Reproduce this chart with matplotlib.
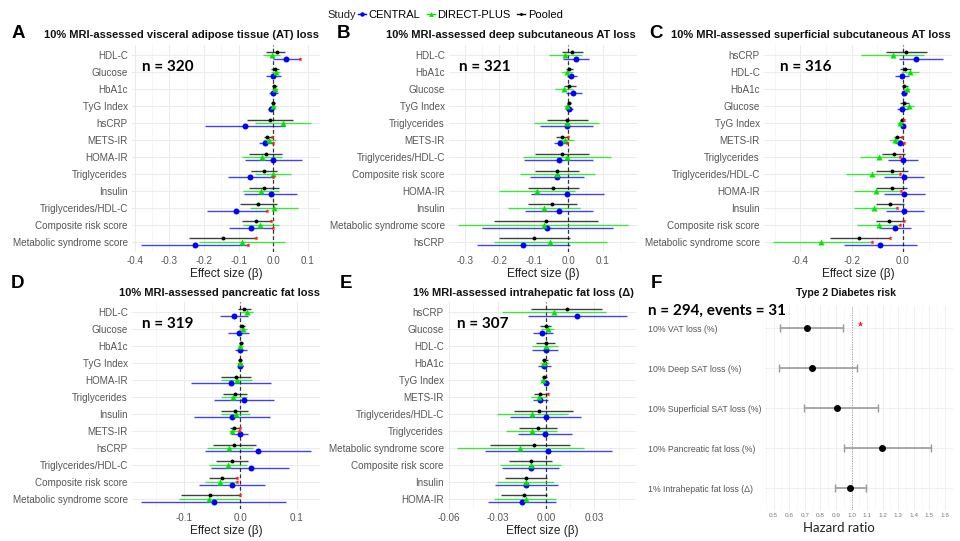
import numpy as np
import matplotlib
matplotlib.use("Agg")
import matplotlib.pyplot as plt
from matplotlib.ticker import MultipleLocator, FormatStrFormatter
from matplotlib.lines import Line2D

plt.rcParams['font.family'] = ['Liberation Sans', 'DejaVu Sans']
plt.rcParams['axes.unicode_minus'] = False

# each row: (estimate, lower CI, upper CI)
# --- A: 10% VAT loss
A_labels = ["HDL-C", "Glucose", "HbA1c", "TyG Index", "hsCRP", "METS-IR", "HOMA-IR",
            "Triglycerides", "Insulin", "Triglycerides/HDL-C", "Composite risk score",
            "Metabolic syndrome score"]
A_pooled = [(0.012, -0.020, 0.034), (0.005, -0.008, 0.017), (0.003, -0.005, 0.010),
            (-0.002, -0.008, 0.005), (-0.010, -0.077, 0.058), (-0.017, -0.027, -0.005),
            (-0.022, -0.069, 0.024), (-0.026, -0.065, 0.012), (-0.026, -0.069, 0.017),
            (-0.043, -0.096, 0.010), (-0.050, -0.089, -0.008), (-0.145, -0.243, -0.049)]
A_direct = [(-0.005, -0.030, 0.020), (0.007, -0.008, 0.019), (0.005, -0.005, 0.014),
            (0.000, -0.010, 0.008), (0.027, -0.053, 0.110), (-0.012, -0.029, 0.008),
            (-0.032, -0.091, 0.024), (-0.002, -0.053, 0.050), (-0.036, -0.088, 0.017),
            (0.002, -0.067, 0.070), (-0.037, -0.088, 0.017), (-0.089, -0.214, 0.034)]
A_central = [(0.038, 0.000, 0.077), (0.000, -0.021, 0.022), (0.000, -0.012, 0.014),
             (-0.006, -0.014, 0.002), (-0.082, -0.197, 0.034), (-0.024, -0.040, -0.002),
             (0.000, -0.082, 0.084), (-0.067, -0.130, 0.000), (-0.008, -0.084, 0.067),
             (-0.108, -0.190, -0.019), (-0.065, -0.127, 0.000), (-0.227, -0.383, -0.074)]
A_sig = [("HDL-C", "CENTRAL"), ("METS-IR", "Pooled"), ("METS-IR", "CENTRAL"),
         ("Triglycerides", "CENTRAL"), ("Triglycerides/HDL-C", "CENTRAL"),
         ("Composite risk score", "Pooled"), ("Composite risk score", "CENTRAL"),
         ("Metabolic syndrome score", "Pooled"), ("Metabolic syndrome score", "CENTRAL")]

# --- B: 10% deep SAT loss
B_labels = ["HDL-C", "HbA1c", "Glucose", "TyG Index", "Triglycerides", "METS-IR",
            "Triglycerides/HDL-C", "Composite risk score", "HOMA-IR", "Insulin",
            "Metabolic syndrome score", "hsCRP"]
B_pooled = [(0.011, -0.019, 0.042), (0.003, -0.007, 0.014), (0.003, -0.014, 0.022),
            (0.001, -0.005, 0.008), (-0.004, -0.062, 0.056), (-0.019, -0.036, -0.002),
            (-0.019, -0.097, 0.061), (-0.033, -0.097, 0.032), (-0.045, -0.118, 0.030),
            (-0.048, -0.118, 0.024), (-0.065, -0.216, 0.085), (-0.099, -0.202, 0.005)]
B_direct = [(-0.009, -0.057, 0.040), (-0.004, -0.021, 0.014), (-0.012, -0.038, 0.014),
            (-0.004, -0.013, 0.005), (-0.004, -0.099, 0.090), (-0.009, -0.031, 0.017),
            (-0.004, -0.130, 0.122), (-0.033, -0.140, 0.077), (-0.091, -0.202, 0.020),
            (-0.070, -0.174, 0.034), (-0.072, -0.321, 0.174), (-0.052, -0.216, 0.111)]
B_central = [(0.022, -0.016, 0.061), (0.008, -0.005, 0.025), (0.014, -0.007, 0.040),
             (0.003, -0.007, 0.014), (-0.004, -0.081, 0.072), (-0.024, -0.043, -0.004),
             (-0.028, -0.128, 0.072), (-0.033, -0.110, 0.046), (-0.004, -0.108, 0.102),
             (-0.026, -0.126, 0.072), (-0.062, -0.250, 0.128), (-0.130, -0.266, 0.005)]
B_sig = [("METS-IR", "Pooled"), ("METS-IR", "CENTRAL")]

# --- C: 10% superficial SAT loss
C_labels = ["hsCRP", "HDL-C", "HbA1c", "Glucose", "TyG Index", "METS-IR", "Triglycerides",
            "Triglycerides/HDL-C", "HOMA-IR", "Insulin", "Composite risk score",
            "Metabolic syndrome score"]
C_pooled = [(0.013, -0.065, 0.094), (0.009, -0.013, 0.032), (0.006, -0.004, 0.018),
            (0.005, -0.010, 0.022), (-0.004, -0.013, 0.004), (-0.023, -0.036, -0.002),
            (-0.036, -0.082, 0.010), (-0.043, -0.104, 0.018), (-0.043, -0.104, 0.016),
            (-0.049, -0.104, 0.006), (-0.053, -0.104, 0.004), (-0.170, -0.286, -0.049)]
C_direct = [(-0.040, -0.162, 0.084), (0.026, -0.008, 0.062), (0.016, 0.000, 0.029),
            (0.022, -0.004, 0.042), (-0.010, -0.023, 0.000), (-0.030, -0.056, -0.008),
            (-0.095, -0.166, -0.013), (-0.121, -0.221, -0.010), (-0.104, -0.192, -0.006),
            (-0.112, -0.192, -0.023), (-0.095, -0.177, -0.010), (-0.319, -0.508, -0.121)]
C_central = [(0.051, -0.017, 0.158), (-0.004, -0.032, 0.025), (0.003, -0.008, 0.016),
             (-0.004, -0.023, 0.018), (0.000, -0.008, 0.010), (-0.013, -0.030, 0.003),
             (0.000, -0.058, 0.057), (0.003, -0.075, 0.083), (0.005, -0.073, 0.087),
             (0.005, -0.065, 0.083), (-0.032, -0.095, 0.031), (-0.088, -0.231, 0.055)]
C_sig = [("TyG Index", "Pooled"), ("METS-IR", "Pooled"), ("METS-IR", "CENTRAL"),
         ("Triglycerides", "DIRECT-PLUS"), ("Triglycerides/HDL-C", "DIRECT-PLUS"),
         ("HOMA-IR", "DIRECT-PLUS"), ("Insulin", "DIRECT-PLUS"),
         ("Composite risk score", "Pooled"), ("Composite risk score", "DIRECT-PLUS"),
         ("Metabolic syndrome score", "Pooled"), ("Metabolic syndrome score", "DIRECT-PLUS")]

# --- D: 10% pancreatic fat loss
D_labels = ["HDL-C", "Glucose", "HbA1c", "TyG Index", "HOMA-IR", "Triglycerides", "Insulin",
            "METS-IR", "hsCRP", "Triglycerides/HDL-C", "Composite risk score",
            "Metabolic syndrome score"]
D_pooled = [(0.0065, -0.004, 0.018), (0.003, -0.003, 0.009), (0.0006, -0.003, 0.004),
            (-0.001, -0.004, 0.002), (-0.008, -0.034, 0.018), (-0.009, -0.031, 0.012),
            (-0.010, -0.035, 0.014), (-0.011, -0.018, -0.001), (-0.011, -0.049, 0.027),
            (-0.015, -0.044, 0.014), (-0.033, -0.056, -0.006), (-0.053, -0.105, -0.001)]
D_direct = [(0.011, 0.000, 0.022), (0.005, -0.003, 0.012), (0.000, -0.005, 0.005),
            (0.000, -0.006, 0.003), (-0.006, -0.034, 0.021), (-0.013, -0.035, 0.011),
            (-0.008, -0.035, 0.017), (-0.014, -0.021, -0.002), (-0.020, -0.060, 0.022),
            (-0.022, -0.055, 0.011), (-0.036, -0.062, -0.006), (-0.056, -0.109, 0.000)]
D_central = [(-0.011, -0.037, 0.014), (-0.003, -0.022, 0.015), (0.000, -0.010, 0.011),
             (0.000, -0.005, 0.005), (-0.016, -0.088, 0.055), (0.0065, -0.046, 0.059),
             (-0.015, -0.082, 0.052), (-0.001, -0.016, 0.014), (0.031, -0.062, 0.126),
             (0.018, -0.052, 0.086), (-0.015, -0.074, 0.043), (-0.047, -0.177, 0.081)]
D_sig = [("METS-IR", "Pooled"), ("METS-IR", "DIRECT-PLUS"), ("Composite risk score", "Pooled"),
         ("Composite risk score", "DIRECT-PLUS"), ("Metabolic syndrome score", "Pooled")]

# --- E: 1% intrahepatic fat loss
E_labels = ["hsCRP", "Glucose", "HDL-C", "HbA1c", "TyG Index", "METS-IR", "Triglycerides/HDL-C",
            "Triglycerides", "Metabolic syndrome score", "Composite risk score", "Insulin",
            "HOMA-IR"]
E_pooled = [(0.0128, -0.0095, 0.0350), (0.0000, -0.0037, 0.0033), (0.0000, -0.0064, 0.0056),
            (-0.0010, -0.0027, 0.0010), (-0.0010, -0.0023, 0.0006), (-0.0037, -0.0072, 0.0012),
            (-0.0043, -0.0199, 0.0166), (-0.0048, -0.0166, 0.0066), (-0.0072, -0.0348, 0.0149),
            (-0.0095, -0.0228, 0.0035), (-0.0126, -0.0254, 0.0004), (-0.0137, -0.0279, 0.0004)]
E_direct = [(0.0050, -0.0270, 0.0370), (0.0010, -0.0031, 0.0052), (0.0000, -0.0085, 0.0077),
            (-0.0010, -0.0037, 0.0021), (-0.0017, -0.0037, 0.0006), (-0.0043, -0.0093, 0.0006),
            (-0.0085, -0.0302, 0.0139), (-0.0089, -0.0248, 0.0070), (-0.0161, -0.0555, 0.0238),
            (-0.0095, -0.0286, 0.0093), (-0.0124, -0.0306, 0.0050), (-0.0124, -0.0320, 0.0062)]
E_central = [(0.0195, -0.0110, 0.0505), (-0.0023, -0.0083, 0.0041), (0.0000, -0.0089, 0.0077),
             (-0.0010, -0.0047, 0.0031), (0.0000, -0.0021, 0.0016), (-0.0037, -0.0079, 0.0010),
             (0.0000, -0.0223, 0.0215), (-0.0006, -0.0176, 0.0163), (0.0010, -0.0379, 0.0408),
             (-0.0095, -0.0275, 0.0081), (-0.0124, -0.0317, 0.0072), (-0.0151, -0.0358, 0.0062)]
E_sig = [("METS-IR", "Pooled")]

# --- F: type 2 diabetes risk (hazard ratios)
F_labels = ["10% VAT loss (%)", "10% Deep SAT loss (%)", "10% Superficial SAT loss (%)",
            "10% Pancreatic fat loss (%)", "1% Intrahepatic fat loss (\u0394)"]
F_hr = [0.714, 0.744, 0.905, 1.197, 0.990]
F_lo = [0.540, 0.537, 0.696, 0.949, 0.896]
F_hi = [0.943, 1.035, 1.172, 1.510, 1.093]
F_sig = ["10% VAT loss (%)"]

# series look: colour, marker, marker size, vertical dodge
STYLE = {
    "CENTRAL": dict(c="#0000ff", m="o", ms=4.3, off=0.2),
    "DIRECT-PLUS": dict(c="#00e600", m="^", ms=4.6, off=0.0),
    "Pooled": dict(c="#000000", m="o", ms=2.8, off=-0.2),
}

W, H = 960, 541
fig = plt.figure(figsize=(W / 100, H / 100), dpi=100)


def box(x0, y0, x1, y1):
    return [x0 / W, 1 - y1 / H, (x1 - x0) / W, (y1 - y0) / H]


def ftext(x, y, s, **kw):
    fig.text(x / W, 1 - y / H, s, **kw)


def forest(rect, labels, series, sig, step, fmt):
    ax = fig.add_axes(rect)
    n = len(labels)
    rows = np.arange(n)
    arrs = {k: np.array(v) for k, v in series.items()}
    for name, a in arrs.items():
        st = STYLE[name]
        y = rows + st["off"]
        ax.hlines(y, a[:, 1], a[:, 2], color=st["c"], lw=1.0, alpha=0.75, zorder=2)
        ax.plot(a[:, 0], y, st["m"], color=st["c"], ms=st["ms"], mec="none", zorder=3)
    for lab, name in sig:
        i = labels.index(lab)
        ax.plot(arrs[name][i, 2], i + STYLE[name]["off"], "*", color="#ff2020",
                ms=3.6, mec="none", zorder=4)
    lo = min(a[:, 1].min() for a in arrs.values())
    hi = max(a[:, 2].max() for a in arrs.values())
    pad = (hi - lo) * 0.05
    ax.set_xlim(lo - pad, hi + pad)
    ax.set_ylim(n - 0.4, -0.6)
    ax.axvline(0, color="#333333", ls=(0, (3, 2)), lw=0.9, zorder=1)
    ax.set_yticks(rows)
    ax.set_yticklabels(labels)
    ax.xaxis.set_major_locator(MultipleLocator(step))
    ax.xaxis.set_minor_locator(MultipleLocator(step / 2))
    ax.xaxis.set_major_formatter(FormatStrFormatter(fmt))
    ax.grid(True, which="major", color="#ebebeb", lw=0.7, zorder=0)
    ax.grid(True, which="minor", axis="x", color="#f3f3f3", lw=0.5, zorder=0)
    ax.set_axisbelow(True)
    for s in ax.spines.values():
        s.set_visible(False)
    ax.tick_params(which="both", length=0, labelsize=7.1, labelcolor="#555555", pad=3)
    ax.set_xlabel("Effect size (\u03b2)", fontsize=8.6, color="#222222", labelpad=1)
    return ax


forest(box(132, 45, 320, 252), A_labels,
       {"CENTRAL": A_central, "DIRECT-PLUS": A_direct, "Pooled": A_pooled}, A_sig, 0.1, "%.1f")
forest(box(449, 45, 637, 252), B_labels,
       {"CENTRAL": B_central, "DIRECT-PLUS": B_direct, "Pooled": B_pooled}, B_sig, 0.1, "%.1f")
forest(box(764, 45, 952, 252), C_labels,
       {"CENTRAL": C_central, "DIRECT-PLUS": C_direct, "Pooled": C_pooled}, C_sig, 0.2, "%.1f")
forest(box(132, 302, 320, 509), D_labels,
       {"CENTRAL": D_central, "DIRECT-PLUS": D_direct, "Pooled": D_pooled}, D_sig, 0.1, "%.1f")
forest(box(448, 302, 636, 509), E_labels,
       {"CENTRAL": E_central, "DIRECT-PLUS": E_direct, "Pooled": E_pooled}, E_sig, 0.03, "%.2f")

# panel F
axf = fig.add_axes(box(765, 306, 953, 510))
yf = np.arange(len(F_labels))
hr = np.array(F_hr)
axf.errorbar(hr, yf, xerr=[hr - np.array(F_lo), np.array(F_hi) - hr], fmt="none",
             ecolor="#9a9a9a", elinewidth=1.2, capsize=3.2, capthick=1.0, zorder=2)
axf.plot(hr, yf, "o", color="black", ms=4, zorder=3)
for lab in F_sig:
    i = F_labels.index(lab)
    axf.plot(F_hi[i] + 0.113, i - 0.1, "*", color="#ff2020", ms=4, mec="none", zorder=4)
axf.axvline(1.0, color="#999999", ls=(0, (1, 1.5)), lw=0.7, zorder=1)
axf.set_xlim(0.445, 1.651)
axf.set_ylim(len(F_labels) - 0.45, -0.55)
axf.set_yticks(yf)
axf.set_yticklabels(F_labels, ha="left")
axf.xaxis.set_major_locator(MultipleLocator(0.1))
axf.xaxis.set_minor_locator(MultipleLocator(0.05))
axf.xaxis.set_major_formatter(FormatStrFormatter("%.1f"))
axf.grid(True, which="major", color="#ececec", lw=0.6)
axf.grid(True, which="minor", axis="x", color="#f4f4f4", lw=0.4)
axf.set_axisbelow(True)
for s in axf.spines.values():
    s.set_visible(False)
axf.tick_params(axis="x", which="both", length=0, labelsize=4.6, labelcolor="#777777", pad=2)
axf.tick_params(axis="y", length=0, labelsize=6.3, labelcolor="#555555", pad=84)

# titles (right aligned to panel edge)
tkw = dict(fontsize=8, fontweight="bold", va="center", ha="right", color="#111111")
ftext(319, 35, "10% MRI-assessed visceral adipose tissue (AT) loss", **tkw)
ftext(636, 35, "10% MRI-assessed deep subcutaneous AT loss", **tkw)
ftext(951, 35, "10% MRI-assessed superficial subcutaneous AT loss", **tkw)
ftext(320, 293, "10% MRI-assessed pancreatic fat loss", **tkw)
ftext(634, 293, "1% MRI-assessed intrahepatic fat loss (\u0394)", **tkw)
ftext(846, 293, "Type 2 Diabetes risk", fontsize=7.5, fontweight="bold", va="center",
      ha="center", color="#111111")

# panel letters
lkw = dict(fontsize=13.5, fontweight="bold", va="center", ha="center", color="black")
for x, y, s in [(18, 33, "A"), (344, 33, "B"), (656, 33, "C"),
                (18, 284, "D"), (346, 284, "E"), (656, 284, "F")]:
    ftext(x, y, s, **lkw)

# sample sizes
nkw = dict(fontsize=11, fontweight="bold", va="center", ha="left", family=["Lato", "DejaVu Sans"])
ftext(142, 67, "n = 320", **nkw)
ftext(459, 67, "n = 321", **nkw)
ftext(780, 67, "n = 316", **nkw)
ftext(142, 324, "n = 319", **nkw)
ftext(457, 324, "n = 307", **nkw)
ftext(648, 311, "n = 294, events = 31", **nkw)
ftext(839, 528, "Hazard ratio", fontsize=9.5, va="center", ha="center", color="#222222",
      family=["Lato", "DejaVu Sans"])

# legend
ftext(327, 15, "Study", fontsize=8, va="center", ha="left", color="#222222")
handles = [Line2D([], [], color=STYLE[k]["c"], marker=STYLE[k]["m"], ms=STYLE[k]["ms"] * 0.75,
                  lw=1.0, mec="none") for k in ["CENTRAL", "DIRECT-PLUS", "Pooled"]]
fig.legend(handles, ["CENTRAL", "DIRECT-PLUS", "Pooled"], loc="center left",
           bbox_to_anchor=(358 / W, 1 - 15 / H), ncol=3, frameon=False, fontsize=8,
           handlelength=0.7, handletextpad=0.25, columnspacing=0.6, borderpad=0,
           borderaxespad=0)

fig.savefig("out.png", dpi=100)
